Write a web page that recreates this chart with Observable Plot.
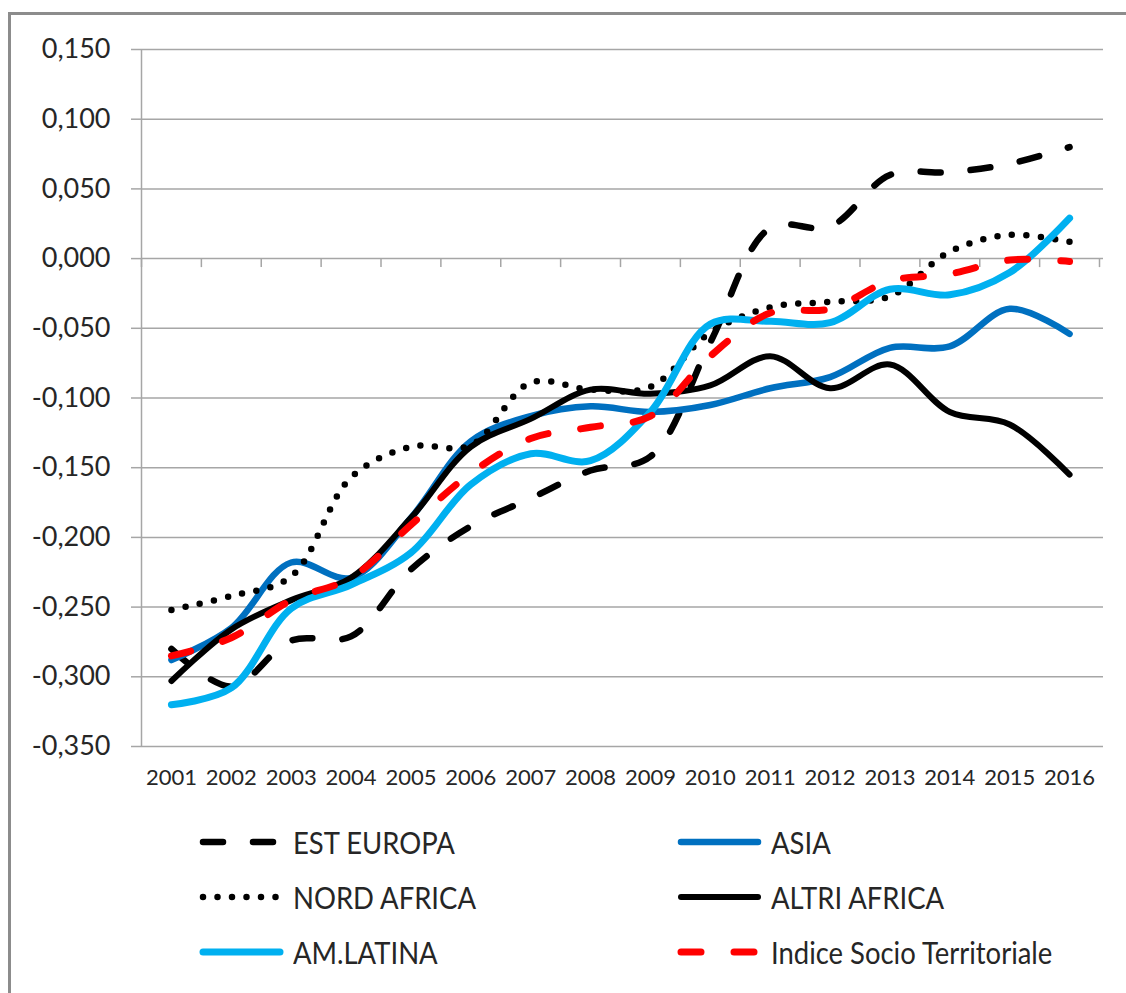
<!DOCTYPE html>
<html>
<head>
<meta charset="utf-8">
<script src="https://cdn.jsdelivr.net/npm/d3@7"></script>
<script src="https://cdn.jsdelivr.net/npm/@observablehq/plot@0.6"></script>
<style>
  html, body { margin: 0; padding: 0; background: #fff; }
  #wrap { position: relative; width: 1126px; height: 993px; overflow: hidden; font-family: Lato, "Open Sans", sans-serif; }
  #frame { position: absolute; left: 8px; top: 12px; width: 1200px; height: 1100px; border-left: 3px solid #8c8c8c; border-top: 3px solid #8c8c8c; box-sizing: border-box; }
  #chart { position: absolute; left: 0; top: 0; }
  #legend { position: absolute; left: 0; top: 0; width: 1126px; height: 993px; pointer-events: none; }
  .item { position: absolute; display: flex; align-items: center; height: 40px; }
  .item svg { display: block; }
  .item span { font-size: 28px; color: #262626; margin-left: 6px; display: inline-block; transform: scale(0.98, 1.12); transform-origin: left center; }
</style>
</head>
<body>
<div id="wrap">
  <div id="frame"></div>
  <div id="chart"></div>
  <div id="legend"></div>
</div>
<script>
// ---- data ----
const years = [2001, 2002, 2003, 2004, 2005, 2006, 2007, 2008, 2009, 2010, 2011, 2012, 2013, 2014, 2015, 2016];
const estEuropa   = [-0.280, -0.307, -0.274, -0.271, -0.223, -0.192, -0.172, -0.152, -0.142, -0.060, 0.022, 0.023, 0.060, 0.062, 0.068, 0.080];
const asia        = [-0.288, -0.265, -0.218, -0.229, -0.186, -0.131, -0.113, -0.106, -0.110, -0.105, -0.093, -0.085, -0.064, -0.063, -0.036, -0.054];
const nordAfrica  = [-0.252, -0.242, -0.228, -0.157, -0.135, -0.134, -0.089, -0.094, -0.092, -0.053, -0.035, -0.031, -0.027, 0.005, 0.017, 0.012];
const altriAfrica = [-0.303, -0.266, -0.245, -0.229, -0.186, -0.135, -0.115, -0.094, -0.097, -0.091, -0.070, -0.093, -0.076, -0.110, -0.119, -0.155];
const amLatina    = [-0.320, -0.308, -0.251, -0.234, -0.211, -0.162, -0.140, -0.145, -0.110, -0.047, -0.045, -0.046, -0.022, -0.026, -0.010, 0.029];
const indice      = [-0.285, -0.272, -0.245, -0.229, -0.191, -0.154, -0.129, -0.121, -0.113, -0.070, -0.039, -0.036, -0.016, -0.011, -0.001, -0.002];
const seriesNames = ["EST EUROPA", "ASIA", "NORD AFRICA", "ALTRI AFRICA", "AM.LATINA", "Indice Socio Territoriale"];
const yTicks = [-0.35, -0.30, -0.25, -0.20, -0.15, -0.10, -0.05, 0.00, 0.05, 0.10, 0.15];

// ---- styles ----
const seriesValues = [estEuropa, asia, nordAfrica, altriAfrica, amLatina, indice];
const styles = [
  {stroke: "#000000", strokeWidth: 6.5, dash: "20,30"},
  {stroke: "#0070C0", strokeWidth: 6.5, dash: null},
  {stroke: "#000000", strokeWidth: 6.5, dash: "0,14.5"},
  {stroke: "#000000", strokeWidth: 6,   dash: null},
  {stroke: "#00B0F0", strokeWidth: 7,   dash: null},
  {stroke: "#FF0000", strokeWidth: 7,   dash: "20,33"}
];
const grid = "#a6a6a6";
const textColor = "#262626";

const locale = d3.formatLocale({decimal: ",", thousands: ".", grouping: [3], currency: ["", "€"], minus: "-"});
const fmt = locale.format(".3f");

const boundaries = d3.range(years.length + 1).map(i => years[0] - 0.5 + i);

const lineMarks = seriesValues.map((vals, k) => {
  const data = years.map((yr, i) => ({year: yr, value: vals[i], series: seriesNames[k]}));
  const s = styles[k];
  return Plot.line(data, {
    x: "year", y: "value", curve: "catmull-rom",
    stroke: s.stroke, strokeWidth: s.strokeWidth,
    strokeDasharray: s.dash || undefined,
    strokeLinecap: "round", strokeLinejoin: "round"
  });
});

const chart = Plot.plot({
  width: 1126, height: 800,
  marginLeft: 141, marginRight: 27, marginTop: 49, marginBottom: 54,
  x: {type: "linear", domain: [years[0] - 0.5, years[years.length - 1] + 0.5], label: null},
  y: {domain: [yTicks[0], yTicks[yTicks.length - 1]], label: null},
  style: {fontFamily: "Lato, 'Open Sans', sans-serif", background: "transparent", overflow: "visible"},
  marks: [
    Plot.ruleY(yTicks, {stroke: grid, strokeWidth: 1.5, insetRight: -4}),
    Plot.ruleX([boundaries[0]], {stroke: grid, strokeWidth: 1.5}),
    Plot.ruleX(boundaries, {y1: 0, y2: 0, insetBottom: -9, stroke: grid, strokeWidth: 1.5}),
    Plot.axisY({ticks: yTicks, tickSize: 10, tickPadding: 21, tickFormat: fmt, fontSize: 27, stroke: grid, strokeWidth: 1.5, fill: textColor, label: null}),
    Plot.axisX({ticks: years, tickSize: 0, tickPadding: 23, tickFormat: d => String(d), fontSize: 22, fill: textColor, label: null}),
    ...lineMarks
  ]
});
document.getElementById("chart").appendChild(chart);

// ---- legend ----
const legendPos = [
  {left: 197, top: 822}, {left: 675, top: 822},
  {left: 197, top: 877}, {left: 675, top: 877},
  {left: 197, top: 932}, {left: 675, top: 932}
];
const legend = document.getElementById("legend");
seriesNames.forEach((name, k) => {
  const s = styles[k];
  const item = document.createElement("div");
  item.className = "item";
  item.style.left = legendPos[k].left + "px";
  item.style.top = legendPos[k].top + "px";
  const ns = "http://www.w3.org/2000/svg";
  const svg = document.createElementNS(ns, "svg");
  svg.setAttribute("width", 90); svg.setAttribute("height", 20);
  const ln = document.createElementNS(ns, "line");
  ln.setAttribute("x1", 6); ln.setAttribute("x2", 83);
  ln.setAttribute("y1", 10); ln.setAttribute("y2", 10);
  ln.setAttribute("stroke", s.stroke);
  ln.setAttribute("stroke-width", s.strokeWidth);
  ln.setAttribute("stroke-linecap", "round");
  if (s.dash) ln.setAttribute("stroke-dasharray", s.dash);
  svg.appendChild(ln);
  const sp = document.createElement("span");
  sp.textContent = name;
  item.appendChild(svg); item.appendChild(sp);
  legend.appendChild(item);
});
</script>
</body>
</html>
